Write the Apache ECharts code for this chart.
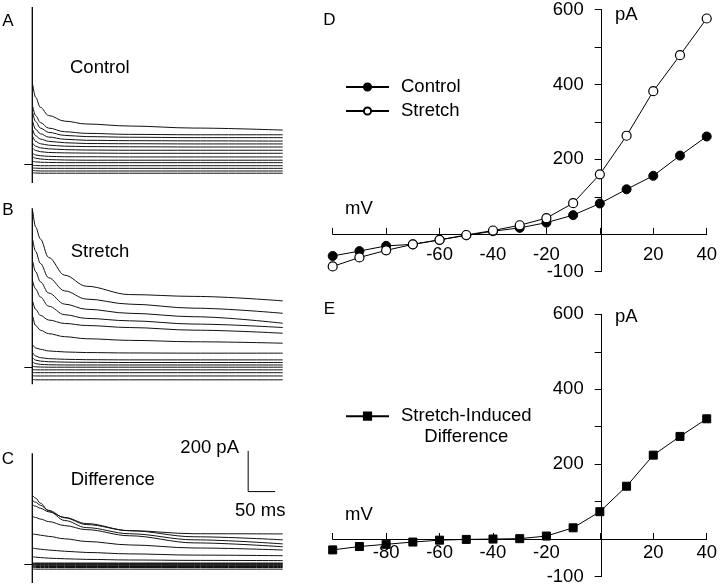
<!DOCTYPE html>
<html>
<head>
<meta charset="utf-8">
<script src="https://cdn.jsdelivr.net/npm/echarts@6/dist/echarts.min.js"></script>
<style>
html,body{margin:0;padding:0;background:#fff;}
#chart{width:720px;height:586px;}
</style>
</head>
<body>
<div id="chart"></div>
<script>
// ---------- Data: current traces (time in ms, current in pA) ----------
const traceTimes = [1, 6, 15, 30, 60, 100, 180, 300, 464];

const controlTraces = [
  [390, 330, 280, 240, 212, 198, 188, 178, 168],
  [283, 240, 205, 178, 160, 152, 147, 145, 145],
  [252, 210, 178, 157, 142, 136, 133, 131, 131],
  [209, 172, 150, 134, 123, 118, 116, 115, 114],
  [168, 140, 124, 113, 106, 102, 101, 100, 100],
  [136, 113, 101, 94, 89, 87, 86, 85, 85],
  [103, 89, 81, 76, 72, 70, 69, 69, 69],
  [79, 68, 62, 58, 56, 55, 54, 54, 54],
  [54, 46, 42, 39, 37, 37, 36, 36, 36],
  [37, 30, 26, 23, 21, 20, 20, 20, 20],
  [15, 12, 10, 9, 8, 8, 8, 8, 8],
  [-5, -6, -7, -7, -7, -7, -7, -7, -7],
  [-18, -19, -20, -20, -20, -20, -20, -20, -20],
  [-30, -32, -33, -33, -33, -33, -33, -33, -33],
  [-42, -43, -44, -44, -44, -44, -44, -44, -44]
];

const stretchTraces = [
  [765, 690, 630, 540, 452, 398, 357, 348, 326],
  [625, 570, 510, 440, 375, 335, 310, 290, 265],
  [519, 470, 420, 365, 310, 285, 265, 248, 216],
  [421, 385, 345, 300, 258, 240, 228, 212, 195],
  [322, 285, 255, 232, 215, 205, 195, 182, 167],
  [249, 205, 182, 165, 150, 140, 132, 125, 118],
  [110, 95, 88, 80, 75, 72, 70, 69, 69],
  [70, 55, 47, 42, 39, 37, 36, 36, 36],
  [45, 35, 30, 27, 25, 24, 23, 23, 23],
  [25, 18, 14, 12, 11, 11, 11, 11, 11],
  [5, 2, 1, 0, 0, 0, 0, 0, 0],
  [-12, -13, -13, -13, -13, -13, -13, -13, -13],
  [-26, -27, -27, -27, -27, -27, -27, -27, -27],
  [-42, -43, -43, -43, -43, -43, -43, -43, -43],
  [-60, -62, -62, -62, -62, -62, -62, -62, -62]
];

const differenceTraces = [
  [336, 325, 300, 262, 215, 180, 150, 120, 100],
  [312, 305, 290, 265, 228, 195, 165, 150, 149],
  [291, 285, 275, 258, 230, 200, 165, 135, 120],
  [234, 230, 222, 210, 190, 170, 140, 105, 86],
  [149, 147, 143, 137, 125, 112, 95, 80, 70],
  [79, 77, 74, 70, 64, 58, 51, 45, 42],
  [37, 35, 33, 30, 27, 24, 21, 19, 18],
  [6, 6, 6, 6, 6, 6, 6, 6, 6],
  [3, 3, 3, 3, 3, 3, 3, 3, 3],
  [0, 0, 0, 0, 0, 0, 0, 0, 0],
  [-3, -3, -3, -3, -3, -3, -3, -3, -3],
  [-7, -7, -7, -7, -7, -7, -7, -7, -7],
  [-11, -11, -11, -11, -11, -11, -11, -11, -11],
  [-16, -16, -16, -16, -16, -16, -16, -16, -16],
  [-24, -24, -24, -24, -24, -24, -24, -24, -24]
];

// capacitive transient extent [peak, trough] for each panel
const transientA = [773, -92];
const transientB = [781, -84];
const transientC = [545, -92];

// scale bar (pA, ms)
const scaleBarPA = 200;
const scaleBarMs = 50;
const scaleBarOrigin = [400, 357];

// ---------- Data: I-V relations ----------
const voltages   = [-100, -90, -80, -70, -60, -50, -40, -30, -20, -10, 0, 10, 20, 30, 40];
const controlIV  = [-58, -45, -31, -27, -15, -3, 8, 17, 31, 51, 82, 120, 156, 210, 261];
const stretchIV  = [-86, -62, -43, -27, -15, -2, 10, 24, 43, 83, 160, 263, 382, 478, 576];
const diffIV     = [-29, -20, -14, -8, -3, -1, 0, 1, 8, 30, 73, 141, 224, 274, 321];

// tick labels
const xTickLabelsD = [-60, -40, -20, 20, 40];
const xTickLabelsE = [-80, -60, -40, -20, 20, 40];
const yTickLabels  = [600, 400, 200, -100];

// ---------- Build option ----------
const FONT = 'Liberation Sans, Arial, Helvetica, sans-serif';
const FS = 18.5;
const BLACK = '#000';

const leftGrids = [
  {left: 32.3, top: 7, width: 250.4, height: 176},
  {left: 32.3, top: 208.3, width: 250.4, height: 176},
  {left: 32.3, top: 453.3, width: 250.4, height: 129.7}
];
const leftRanges = [[-92, 773], [-84, 781], [-92, 545]];

const ivGrids = [
  {left: 332.7, top: 7.1, width: 376.6, height: 264.6},
  {left: 332.7, top: 314.3, width: 376.6, height: 262.4}
];
const ivXRange = [-100, 40];
const ivYRange = [-100, 600];

const grids = leftGrids.concat(ivGrids);

const xAxes = [];
const yAxes = [];
for (let i = 0; i < 3; i++) {
  xAxes.push({gridIndex: i, type: 'value', min: 0, max: 464, show: false});
  yAxes.push({
    gridIndex: i, type: 'value', min: leftRanges[i][0], max: leftRanges[i][1],
    offset: 3,
    axisLine: {show: false},
    splitLine: {show: false},
    axisLabel: {show: false},
    axisTick: {show: true, customValues: [0], length: 8, lineStyle: {color: BLACK, width: 1}}
  });
}
// axes crossing at the origin: shift them by the pixel distance of zero from the grid edge
function ivX(k, labels, margin) {
  const g = ivGrids[k];
  const off = -g.height * (0 - ivYRange[0]) / (ivYRange[1] - ivYRange[0]);
  return {
    gridIndex: 3 + k, type: 'value', min: ivXRange[0], max: ivXRange[1], interval: 20,
    position: 'bottom', offset: off,
    axisLine: {show: true, onZero: false, lineStyle: {color: BLACK, width: 1}},
    axisTick: {show: true, inside: true, length: 6, lineStyle: {color: BLACK, width: 1}},
    axisLabel: {customValues: labels, margin: margin, fontSize: FS, color: BLACK, fontFamily: FONT},
    splitLine: {show: false}
  };
}
function ivY(k) {
  const g = ivGrids[k];
  const off = -g.width * (0 - ivXRange[0]) / (ivXRange[1] - ivXRange[0]);
  return {
    gridIndex: 3 + k, type: 'value', min: ivYRange[0], max: ivYRange[1], interval: 100,
    position: 'left', offset: off,
    axisLine: {show: true, onZero: false, lineStyle: {color: BLACK, width: 1}},
    axisTick: {show: true, length: 7, lineStyle: {color: BLACK, width: 1}},
    axisLabel: {customValues: yTickLabels, margin: 18, fontSize: FS, color: BLACK, fontFamily: FONT},
    splitLine: {show: false}
  };
}
xAxes.push(ivX(0, xTickLabelsD, 12), ivX(1, xTickLabelsE, 4));
yAxes.push(ivY(0), ivY(1));

const series = [];
const panels = [controlTraces, stretchTraces, differenceTraces];
const transients = [transientA, transientB, transientC];
panels.forEach((traces, p) => {
  series.push({
    type: 'line', xAxisIndex: p, yAxisIndex: p, silent: true,
    data: [[0, transients[p][0]], [0, transients[p][1]]],
    showSymbol: false, symbol: 'none',
    lineStyle: {color: BLACK, width: 1.3}
  });
  traces.forEach(tr => {
    series.push({
      type: 'line', xAxisIndex: p, yAxisIndex: p, silent: true,
      data: traceTimes.map((t, j) => [t, tr[j]]),
      showSymbol: false, symbol: 'none',
      smooth: 0.35, smoothMonotone: 'x',
      lineStyle: {color: '#111', width: 1}
    });
  });
});
// scale bar in panel C coordinates
series.push({
  type: 'line', xAxisIndex: 2, yAxisIndex: 2, silent: true, clip: false,
  data: [
    [scaleBarOrigin[0], scaleBarOrigin[1] + scaleBarPA],
    [scaleBarOrigin[0], scaleBarOrigin[1]],
    [scaleBarOrigin[0] + scaleBarMs, scaleBarOrigin[1]]
  ],
  showSymbol: false, symbol: 'none',
  lineStyle: {color: BLACK, width: 1}
});
// I-V
series.push({
  name: 'Control', type: 'line', xAxisIndex: 3, yAxisIndex: 3,
  data: voltages.map((v, i) => [v, controlIV[i]]),
  symbol: 'circle', symbolSize: 9,
  itemStyle: {color: BLACK, borderColor: BLACK, borderWidth: 1},
  lineStyle: {color: BLACK, width: 1}
});
series.push({
  name: 'Stretch', type: 'line', xAxisIndex: 3, yAxisIndex: 3,
  data: voltages.map((v, i) => [v, stretchIV[i]]),
  symbol: 'circle', symbolSize: 9,
  itemStyle: {color: '#fff', borderColor: BLACK, borderWidth: 1.2},
  lineStyle: {color: BLACK, width: 1}
});
series.push({
  name: 'Stretch-Induced Difference', type: 'line', xAxisIndex: 4, yAxisIndex: 4,
  data: voltages.map((v, i) => [v, diffIV[i]]),
  symbol: 'rect', symbolSize: 8,
  itemStyle: {color: BLACK, borderColor: BLACK, borderWidth: 1},
  lineStyle: {color: BLACK, width: 1}
});

function txt(x, y, s, opts) {
  return {
    type: 'text', x: x, y: y, silent: true,
    style: Object.assign({text: s, fontSize: FS, fontFamily: FONT, fill: BLACK, align: 'left', verticalAlign: 'middle'}, opts || {})
  };
}

const graphic = [
  txt(8, 21, 'A', {fontSize: 17, align: 'center'}),
  txt(8, 210, 'B', {fontSize: 17, align: 'center'}),
  txt(8, 459, 'C', {fontSize: 17, align: 'center'}),
  txt(329.5, 20.5, 'D', {fontSize: 17, align: 'center'}),
  txt(329.5, 309, 'E', {fontSize: 17, align: 'center'}),
  txt(70, 68, 'Control'),
  txt(70.7, 251.5, 'Stretch'),
  txt(70.7, 480, 'Difference'),
  txt(239, 447.5, '200 pA', {align: 'right'}),
  txt(235, 510.5, '50 ms'),
  txt(615, 15, 'pA'),
  txt(615, 316.7, 'pA'),
  txt(345, 209, 'mV'),
  txt(345, 515, 'mV')
];

const option = {
  animation: false,
  backgroundColor: '#fff',
  textStyle: {fontFamily: FONT},
  grid: grids,
  xAxis: xAxes,
  yAxis: yAxes,
  legend: [
    {
      data: ['Control', 'Stretch'], left: 345, top: 77.5, orient: 'vertical',
      itemWidth: 43, itemHeight: 9, itemGap: 5, padding: 0, selectedMode: false,
      textStyle: {fontSize: FS, color: BLACK, fontFamily: FONT, padding: [0, 0, 0, 7]}
    },
    {
      data: ['Stretch-Induced Difference'], left: 345, top: 406.7, orient: 'vertical',
      itemWidth: 43, itemHeight: 9, padding: 0, selectedMode: false,
      formatter: function () { return '{a|Stretch-Induced}\n{b|Difference}'; },
      textStyle: {
        fontSize: FS, color: BLACK, fontFamily: FONT, padding: [21, 0, 0, 7],
        rich: {
          a: {fontSize: FS, lineHeight: 21, fontFamily: FONT, color: BLACK},
          b: {fontSize: FS, lineHeight: 21, fontFamily: FONT, color: BLACK, align: 'center'}
        }
      }
    }
  ],
  graphic: graphic,
  series: series
};

const chart = echarts.init(document.getElementById('chart'), null, {renderer: 'canvas'});
chart.setOption(option);
</script>
</body>
</html>
